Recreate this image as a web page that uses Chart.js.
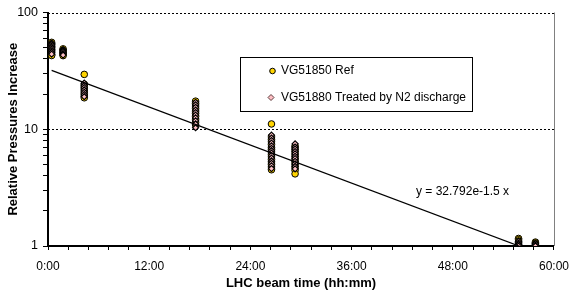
<!DOCTYPE html>
<html>
<head>
<meta charset="utf-8">
<script src="https://cdn.jsdelivr.net/npm/chart.js@4.4.1/dist/chart.umd.min.js"></script>
<style>
  html, body { margin: 0; padding: 0; background: #fff; }
  #wrap { width: 578px; height: 291px; }
</style>
</head>
<body>
<div id="wrap"><canvas id="chart" width="578" height="291"></canvas></div>
<script>
/* ---------- DATA ---------- */
// LHC beam time of each measurement group (hours)
const sampleHours = [0.43, 1.79, 4.3, 17.5, 26.5, 29.3, 55.8, 57.8];

// VG51850 Ref, one list per sample time
const refValues = [
  [55.5, 54, 52.5, 51, 49.5, 48, 46.5, 45, 43.5, 42.8],
  [48.8, 47.5, 46.3, 45, 43.8, 42.7],
  [29.5, 24.3, 23.2, 22.2, 21.2, 20.2, 19.3, 18.6],
  [17.4, 16.6, 15.8, 15, 14.3, 13.6, 12.9, 12.2, 11.5, 10.9],
  [11.1, 8.6, 8.2, 7.8, 7.4, 7.0, 6.7, 6.4, 6.1, 5.8, 5.5, 5.25, 5.0, 4.75, 4.5],
  [7.2, 6.9, 6.6, 6.3, 6.0, 5.7, 5.45, 5.2, 4.95, 4.7, 4.45, 4.15],
  [1.16, 1.13, 1.1, 1.07, 1.04, 1.02],
  [1.08, 1.06, 1.04, 1.02]
];

// VG51880 Treated by N2 discharge
const n2Values = [
  [54.5, 53, 51.5, 50, 48.5, 47, 45.5, 44],
  [48, 46.8, 45.5, 44.3, 43.2],
  [24.8, 23.7, 22.7, 21.7, 20.7, 19.8, 19],
  [17, 16.2, 15.4, 14.6, 13.9, 13.2, 12.5, 11.8, 11.1, 10.3],
  [8.9, 8.4, 8.0, 7.6, 7.2, 6.85, 6.55, 6.25, 5.95, 5.65, 5.35, 5.1, 4.85, 4.6],
  [7.5, 7.05, 6.75, 6.45, 6.15, 5.85, 5.6, 5.3, 5.05, 4.8, 4.58],
  [1.1, 1.06, 1.03, 1.0],
  [1.05, 1.02, 1.0]
];

const seriesNames = ['VG51850 Ref', 'VG51880 Treated by N2 discharge'];

// exponential trendline y = a * e^(b * days)
const trendA = 32.792;
const trendB = -1.5;
const trendLabel = 'y = 32.792e-1.5 x';

const xTickHours = [0, 12, 24, 36, 48, 60];
const yTickLabels = [1, 10, 100];

/* ---------- helpers ---------- */
const FONT = "'Liberation Sans', Arial, sans-serif";
const toPoints = (groups) => groups.flatMap((vals, i) => vals.map(v => ({ x: sampleHours[i], y: v })));
const trendAt = (h) => trendA * Math.exp(trendB * h / 24);
const fmtTime = (h) => Math.floor(h) + ':' + String(Math.round((h % 1) * 60)).padStart(2, '0');

const tStart = sampleHours[0], tEnd = sampleHours[sampleHours.length - 1];

/* ---------- custom drawing: grid, legend box, equation ---------- */
const decor = {
  id: 'decor',
  beforeDatasetsDraw(chart) {
    const { ctx, chartArea: a, scales: { y } } = chart;
    ctx.save();
    ctx.strokeStyle = '#000';
    ctx.lineWidth = 1;
    ctx.setLineDash([2, 2]);
    [10, 100].forEach(v => {
      const py = Math.round(y.getPixelForValue(v)) + 0.5;
      ctx.beginPath(); ctx.moveTo(a.left, py); ctx.lineTo(a.right, py); ctx.stroke();
    });
    ctx.setLineDash([]);
    ctx.strokeStyle = '#808080';
    ctx.beginPath();
    ctx.moveTo(Math.round(a.right) + 0.5, a.top);
    ctx.lineTo(Math.round(a.right) + 0.5, a.bottom);
    ctx.stroke();
    ctx.restore();
  },
  afterDraw(chart) {
    const { ctx } = chart;
    const ds = chart.data.datasets;
    ctx.save();
    // legend frame
    ctx.fillStyle = '#fff';
    ctx.fillRect(240, 57, 232, 55);
    ctx.strokeStyle = '#000';
    ctx.lineWidth = 1;
    ctx.strokeRect(240.5, 57.5, 232, 54);
    // markers
    ctx.beginPath();
    ctx.arc(272.5, 71, 2.8, 0, Math.PI * 2);
    ctx.fillStyle = ds[0].backgroundColor; ctx.fill();
    ctx.strokeStyle = '#000'; ctx.stroke();
    ctx.beginPath();
    ctx.moveTo(271, 94.5); ctx.lineTo(274, 97.5); ctx.lineTo(271, 100.5); ctx.lineTo(268, 97.5); ctx.closePath();
    ctx.fillStyle = ds[1].backgroundColor; ctx.fill();
    ctx.strokeStyle = '#5a3a3a'; ctx.stroke();
    ctx.fillStyle = '#000';
    ctx.font = '12px ' + FONT;
    ctx.textBaseline = 'middle';
    ctx.fillText(seriesNames[0], 281, 71);
    ctx.fillText(seriesNames[1], 281, 97.5);
    // trendline equation
    ctx.fillText(trendLabel, 416, 192);
    ctx.restore();
  }
};

/* ---------- CHART ---------- */
new Chart(document.getElementById('chart'), {
  type: 'scatter',
  data: {
    datasets: [
      {
        label: seriesNames[0],
        data: toPoints(refValues),
        pointStyle: 'circle',
        pointRadius: 3.3,
        backgroundColor: '#FFD400',
        borderColor: '#000',
        borderWidth: 1,
        order: 2
      },
      {
        label: seriesNames[1],
        data: toPoints(n2Values),
        pointStyle: 'rectRot',
        pointRadius: 3,
        backgroundColor: '#FFBFC4',
        borderColor: '#000',
        borderWidth: 1.2,
        order: 1
      },
      {
        label: 'trend',
        type: 'line',
        data: [{ x: tStart, y: trendAt(tStart) }, { x: tEnd, y: trendAt(tEnd) }],
        borderColor: '#000',
        borderWidth: 1.2,
        pointRadius: 0,
        showLine: true,
        clip: 0,
        order: 0
      }
    ]
  },
  options: {
    responsive: false,
    animation: false,
    layout: { padding: { top: 11, right: 15, left: 0, bottom: 0 } },
    plugins: { legend: { display: false }, tooltip: { enabled: false } },
    scales: {
      x: {
        type: 'linear',
        min: 0, max: 60,
        afterFit: s => { s.height = 45; },
        afterBuildTicks: s => {
          const t = [];
          for (let i = 0; i < xTickHours.length - 1; i++) {
            for (let k = 0; k < 5; k++) t.push({ value: xTickHours[i] + k * (xTickHours[i + 1] - xTickHours[i]) / 5 });
          }
          t.push({ value: xTickHours[xTickHours.length - 1] });
          s.ticks = t;
        },
        ticks: {
          autoSkip: false, maxRotation: 0, padding: 9,
          color: '#000', font: { family: FONT, size: 12 },
          callback: v => xTickHours.some(h => Math.abs(h - v) < 1e-6) ? fmtTime(v) : ''
        },
        grid: { drawOnChartArea: false, drawTicks: true, tickLength: 4, tickColor: '#000', tickWidth: 1 },
        border: { color: '#000', width: 2 },
        title: {
          display: true, text: 'LHC beam time (hh:mm)', color: '#000',
          font: { family: FONT, size: 13, weight: 'bold' }, padding: { top: 0, bottom: 0 }
        }
      },
      y: {
        type: 'logarithmic',
        min: 1, max: 100,
        afterFit: s => { s.width = 48; },
        afterBuildTicks: s => {
          const t = [];
          for (let d = yTickLabels[0]; d < yTickLabels[yTickLabels.length - 1]; d *= 10) {
            for (let m = 1; m < 10; m++) t.push({ value: d * m });
          }
          t.push({ value: yTickLabels[yTickLabels.length - 1] });
          s.ticks = t;
        },
        ticks: {
          autoSkip: false, padding: 5,
          color: '#000', font: { family: FONT, size: 12.5 },
          callback: v => yTickLabels.includes(v) ? String(v) : ''
        },
        grid: { drawOnChartArea: false, drawTicks: true, tickLength: 5, tickColor: '#000', tickWidth: 1 },
        border: { color: '#000', width: 2 },
        title: {
          display: true, text: 'Relative Pressures Increase', color: '#000',
          font: { family: FONT, size: 13, weight: 'bold' }, padding: { top: 6, bottom: 0 }
        }
      }
    }
  },
  plugins: [decor]
});
</script>
</body>
</html>
